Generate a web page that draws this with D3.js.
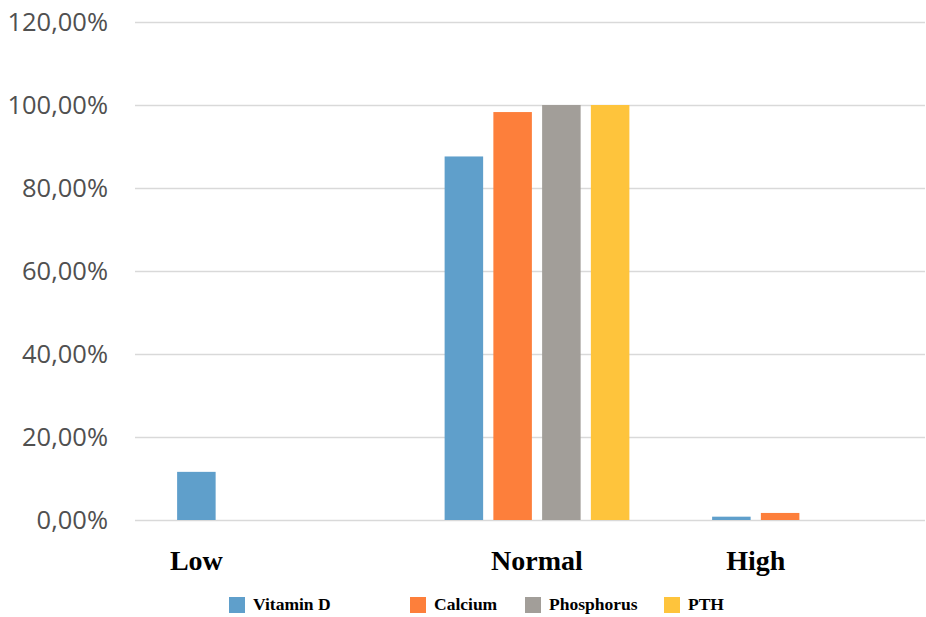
<!DOCTYPE html>
<html>
<head>
<meta charset="utf-8">
<script src="https://cdn.jsdelivr.net/npm/d3@7"></script>
<style>
  html, body { margin: 0; padding: 0; background: #fff; }
  svg { display: block; }
</style>
</head>
<body>
<svg id="chart" width="926" height="617"></svg>
<script>
// Share of patients per level (Low / Normal / High) for each marker
const categories = ["Low", "Normal", "High"];
const seriesNames = ["Vitamin D", "Calcium", "Phosphorus", "PTH"];
const vitaminD   = [11.6, 87.6, 0.8];
const calcium    = [0.0, 98.3, 1.7];
const phosphorus = [0.0, 100.0, 0.0];
const pth        = [0.0, 100.0, 0.0];
const yTicks = [0, 20, 40, 60, 80, 100, 120];
const colors = ["#5F9FCB", "#FD7F3B", "#A29E99", "#FEC43C"];

const seriesValues = [vitaminD, calcium, phosphorus, pth];

const svg = d3.select("#chart");
const plotLeft = 135, plotRight = 925;
const plotTop = 22, plotBottom = 520;

const y = d3.scaleLinear().domain([0, 120]).range([plotBottom, plotTop]);
const x0 = d3.scaleBand().domain(categories).range([135.75, 938.25]).paddingInner(0).paddingOuter(0);
const x1 = d3.scaleBand().domain(seriesNames).range([0, 195]).paddingInner(0.21).paddingOuter(0.105);
const groupOffset = (x0.bandwidth() - 195) / 2;

// Gridlines and value axis labels
const yAxis = d3.axisLeft(y).tickValues(yTicks)
  .tickSize(-(plotRight - plotLeft))
  .tickFormat(d => d3.format(".2f")(d).replace(".", ",") + "%");
const gy = svg.append("g").attr("transform", `translate(${plotLeft},0)`).call(yAxis);
gy.select(".domain").remove();
gy.selectAll(".tick line").attr("stroke", "#D9D9D9").attr("stroke-width", 1.3);
gy.selectAll(".tick text")
  .attr("x", -27)
  .attr("fill", "#505050")
  .style("font-family", "'Open Sans', sans-serif")
  .style("font-size", "25.5px");

// Bars
const groups = svg.append("g").selectAll("g")
  .data(categories)
  .join("g")
  .attr("transform", d => `translate(${x0(d) + groupOffset},0)`);

groups.selectAll("rect")
  .data((c, ci) => seriesNames.map((s, si) => ({ series: s, si, value: seriesValues[si][ci] })))
  .join("rect")
  .attr("x", d => x1(d.series))
  .attr("width", x1.bandwidth())
  .attr("y", d => y(d.value))
  .attr("height", d => y(0) - y(d.value))
  .attr("fill", d => colors[d.si]);

// Category labels, centred over the bars that carry a value
const catLabelX = categories.map((c, ci) => {
  const centers = seriesNames
    .filter((s, si) => seriesValues[si][ci] > 0)
    .map(s => x0(c) + groupOffset + x1(s) + x1.bandwidth() / 2);
  return (d3.min(centers) + d3.max(centers)) / 2;
});
svg.append("g").selectAll("text")
  .data(categories)
  .join("text")
  .attr("x", (d, i) => catLabelX[i])
  .attr("y", 570)
  .attr("text-anchor", "middle")
  .attr("fill", "#000")
  .style("font-family", "'Liberation Serif', 'Times New Roman', serif")
  .style("font-weight", "bold")
  .style("font-size", "28px")
  .text(d => d);

// Legend
const legendX = [229, 410, 525, 664];
const legend = svg.append("g").selectAll("g")
  .data(seriesNames)
  .join("g")
  .attr("transform", (d, i) => `translate(${legendX[i]},597)`);
legend.append("rect")
  .attr("width", 16).attr("height", 16)
  .attr("fill", (d, i) => colors[i]);
legend.append("text")
  .attr("x", 24).attr("y", 13)
  .attr("fill", "#000")
  .style("font-family", "'Liberation Serif', 'Times New Roman', serif")
  .style("font-weight", "bold")
  .style("font-size", "17.5px")
  .text(d => d);
</script>
</body>
</html>
